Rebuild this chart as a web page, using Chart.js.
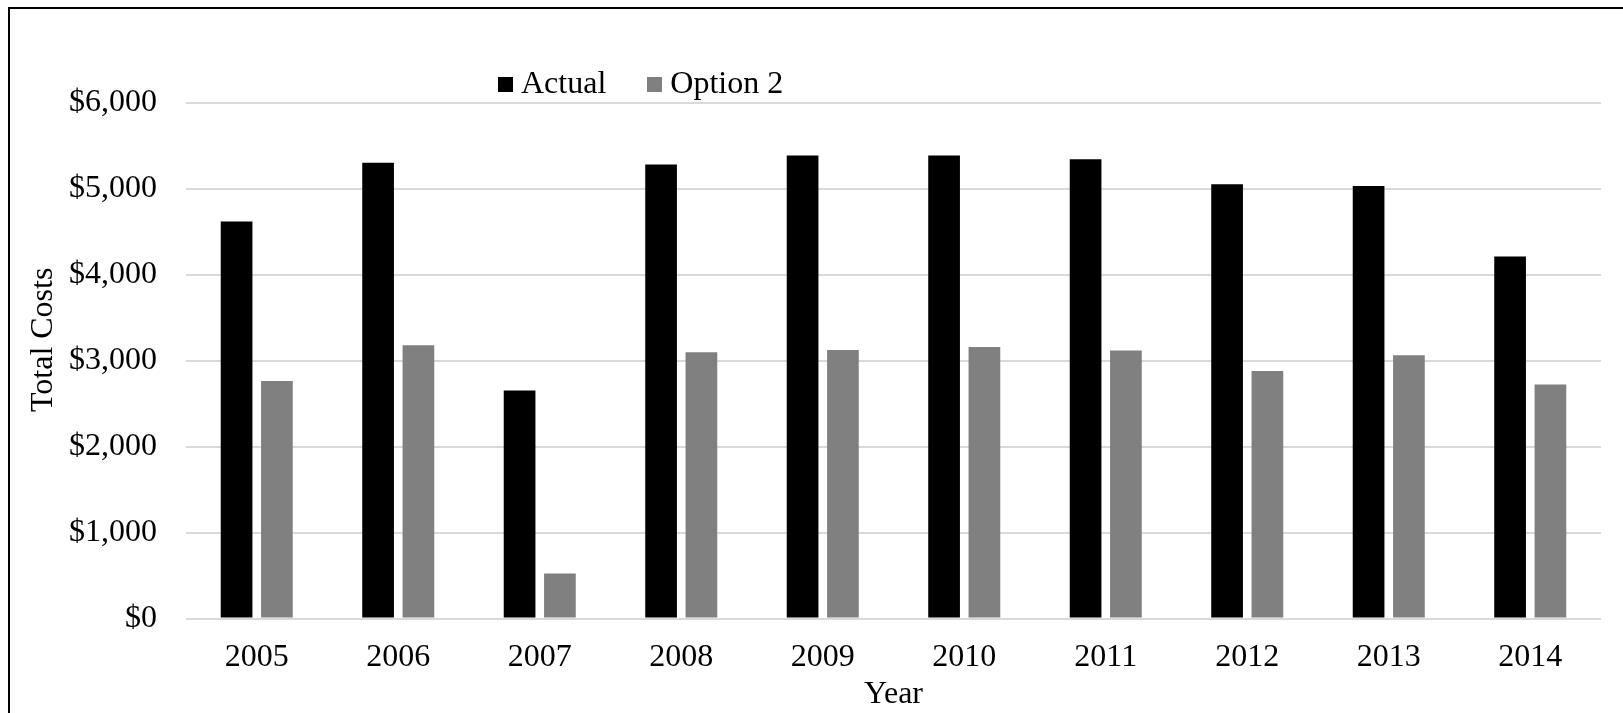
<!DOCTYPE html>
<html>
<head>
<meta charset="utf-8">
<title>Total Costs by Year</title>
<script src="https://cdn.jsdelivr.net/npm/chart.js@4.4.1/dist/chart.umd.min.js"></script>
<style>
  html, body { margin: 0; padding: 0; background: #ffffff; overflow: hidden; }
  #frame {
    position: absolute; left: 8px; top: 7px; width: 1700px; height: 800px;
    border-left: 2px solid #000; border-top: 2px solid #000;
  }
  #wrap { position: absolute; left: 0; top: 0; width: 1623px; height: 713px; }
  #legend {
    position: absolute; left: 498px; top: 66px; margin: 0; padding: 0;
    list-style: none; white-space: nowrap;
    font-family: "Liberation Serif", "Times New Roman", serif; font-size: 32px; line-height: 32px; color: #000;
  }
  #legend li { display: inline-block; }
  #legend li + li { margin-left: 41px; }
  #legend .swatch { display: inline-block; width: 15px; height: 15px; margin-right: 8px; vertical-align: 1px; }
</style>
</head>
<body>
<div id="frame"></div>
<div id="wrap">
  <canvas id="chart" width="1623" height="713"></canvas>
  <ul id="legend"></ul>
</div>
<script>
// Years on the category axis
const years = ['2005', '2006', '2007', '2008', '2009', '2010', '2011', '2012', '2013', '2014'];
// Total costs per year, in dollars
const actualCosts = [4620, 5305, 2655, 5285, 5390, 5390, 5345, 5055, 5035, 4215];
const option2Costs = [2765, 3180, 525, 3100, 3125, 3160, 3120, 2880, 3065, 2725];
// Value-axis tick marks
const costTicks = [0, 1000, 2000, 3000, 4000, 5000, 6000];

const serif = '"Liberation Serif", "Times New Roman", serif';

// Axis titles are painted here so they can sit exactly where they belong
const axisTitles = {
  id: 'axisTitles',
  afterDraw(chart, args, opts) {
    const { ctx, chartArea } = chart;
    ctx.save();
    ctx.fillStyle = '#000';
    ctx.font = '32px ' + serif;
    ctx.textAlign = 'center';
    ctx.textBaseline = 'middle';
    ctx.fillText(opts.x, (chartArea.left + chartArea.right) / 2, chartArea.bottom + 76);
    ctx.translate(44, (chartArea.top + chartArea.bottom) / 2 - 21);
    ctx.rotate(-Math.PI / 2);
    ctx.fillText(opts.y, 0, 0);
    ctx.restore();
  }
};

const chart = new Chart(document.getElementById('chart'), {
  type: 'bar',
  data: {
    labels: years,
    datasets: [
      { label: 'Actual', data: actualCosts, backgroundColor: '#000000' },
      { label: 'Option 2', data: option2Costs, backgroundColor: '#808080' }
    ]
  },
  options: {
    responsive: false,
    animation: false,
    events: [],
    datasets: { bar: { categoryPercentage: 0.57, barPercentage: 0.786, borderWidth: 0 } },
    layout: { padding: { left: 40, right: 22, top: 103, bottom: 16 } },
    plugins: {
      legend: { display: false },
      tooltip: { enabled: false },
      axisTitles: { x: 'Year', y: 'Total Costs' }
    },
    scales: {
      x: {
        grid: { display: false, drawTicks: false },
        border: { display: false },
        ticks: { color: '#000', padding: 20, font: { family: serif, size: 32 } }
      },
      y: {
        min: 0,
        max: 6000,
        afterBuildTicks(scale) { scale.ticks = costTicks.map(v => ({ value: v })); },
        grid: { color: '#d9d9d9', lineWidth: 2, drawTicks: false },
        border: { display: false },
        ticks: {
          color: '#000', padding: 29, font: { family: serif, size: 32 },
          callback: v => '$' + Number(v).toLocaleString('en-US')
        }
      }
    }
  },
  plugins: [axisTitles]
});

// Legend built from the chart's own datasets
const legendEl = document.getElementById('legend');
chart.options.plugins.legend.labels.generateLabels(chart).forEach(item => {
  const li = document.createElement('li');
  const sw = document.createElement('span');
  sw.className = 'swatch';
  sw.style.background = item.fillStyle;
  li.appendChild(sw);
  li.appendChild(document.createTextNode(item.text));
  legendEl.appendChild(li);
});
</script>
</body>
</html>
